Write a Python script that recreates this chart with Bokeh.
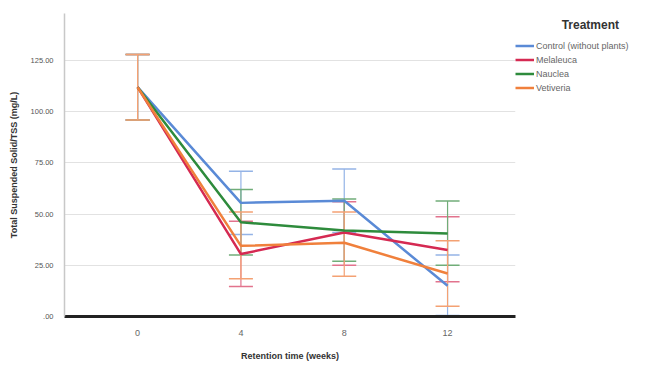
from bokeh.plotting import figure
from bokeh.models import (ColumnDataSource, Whisker, TeeHead, Legend, LegendItem,
                          FixedTicker, Range1d)
from bokeh.embed import file_html
from bokeh.resources import INLINE

weeks = [0, 4, 8, 12]
tick_labels = ["0", "4", "8", "12"]
y_ticks = [0, 25, 50, 75, 100, 125]
y_tick_labels = [".00", "25.00", "50.00", "75.00", "100.00", "125.00"]

series_names = ["Control (without plants)", "Melaleuca", "Nauclea", "Vetiveria"]
colors = ["#5a8ad6", "#d52a52", "#2e8b3c", "#f0803c"]
bar_colors = ["#94b3e6", "#e2738d", "#70ad78", "#f4a173"]

control_mean = [112, 55.5, 56.5, 15]
control_lo = [96, 40, 41, 0.5]
control_hi = [128, 71, 72, 30]

melaleuca_mean = [112, 30.5, 41, 32.5]
melaleuca_lo = [96, 14.7, 25, 17]
melaleuca_hi = [128, 46.5, 56, 48.7]

nauclea_mean = [112, 46, 42, 40.5]
nauclea_lo = [96, 30, 27, 25]
nauclea_hi = [128, 62, 57.4, 56.4]

vetiveria_mean = [112, 34.5, 36, 21]
vetiveria_lo = [96, 18.5, 19.6, 5]
vetiveria_hi = [128, 51, 51, 37]

means = [control_mean, melaleuca_mean, nauclea_mean, vetiveria_mean]
los = [control_lo, melaleuca_lo, nauclea_lo, vetiveria_lo]
his = [control_hi, melaleuca_hi, nauclea_hi, vetiveria_hi]

FONT = "Liberation Sans"

p = figure(frame_width=451, frame_height=303, output_backend="svg", toolbar_location=None,
           x_range=Range1d(-2.83, 14.63), y_range=Range1d(0, 148),
           min_border_left=64, min_border_right=0, min_border_top=13,
           min_border_bottom=44)
p.outline_line_color = None
p.background_fill_color = "white"
p.border_fill_color = "white"

items = []
for name, col, bc, m, lo, hi in zip(series_names, colors, bar_colors, means, los, his):
    src = ColumnDataSource(dict(x=weeks, y=m, lo=lo, hi=hi))
    w = Whisker(source=src, base="x", lower="lo", upper="hi",
                line_color=bc, line_width=1.2,
                upper_head=TeeHead(size=24, line_color=bc, line_width=1.5),
                lower_head=TeeHead(size=24, line_color=bc, line_width=1.5))
    p.add_layout(w)
    r = p.line("x", "y", source=src, line_color=col, line_width=2.5)
    items.append(LegendItem(label=name, renderers=[r]))

p.xaxis.ticker = FixedTicker(ticks=weeks)
p.xaxis.major_label_overrides = {w: t for w, t in zip(weeks, tick_labels)}
p.yaxis.ticker = FixedTicker(ticks=y_ticks)
p.yaxis.major_label_overrides = {v: t for v, t in zip(y_ticks, y_tick_labels)}

p.xaxis.axis_line_color = "#222222"
p.xaxis.axis_line_width = 3
p.xaxis.major_tick_line_color = None
p.xaxis.minor_tick_line_color = None
p.xaxis.major_label_text_font = FONT
p.xaxis.major_label_text_font_size = "9px"
p.xaxis.major_label_text_color = "#666666"
p.xaxis.major_label_standoff = 7
p.xaxis.axis_label = "Retention time (weeks)"
p.xaxis.axis_label_text_font = FONT
p.xaxis.axis_label_text_font_style = "bold"
p.xaxis.axis_label_text_font_size = "9px"
p.xaxis.axis_label_text_color = "#333333"
p.xaxis.axis_label_standoff = 12

p.yaxis.axis_line_color = "#c8c8c8"
p.yaxis.axis_line_width = 1.5
p.yaxis.major_tick_line_color = None
p.yaxis.minor_tick_line_color = None
p.yaxis.major_label_text_font = FONT
p.yaxis.major_label_text_font_size = "7.5px"
p.yaxis.major_label_text_color = "#555555"
p.yaxis.major_label_standoff = 5
p.yaxis.axis_label = "Total Suspended Solid/TSS (mg/L)"
p.yaxis.axis_label_text_font = FONT
p.yaxis.axis_label_text_font_style = "bold"
p.yaxis.axis_label_text_font_size = "9px"
p.yaxis.axis_label_text_color = "#333333"
p.yaxis.axis_label_standoff = 9

p.xgrid.grid_line_color = None
p.ygrid.grid_line_color = "#e2e2e2"
p.ygrid.grid_line_width = 1.2

legend = Legend(items=items, location=(0, 222),
                title="\u00a0" * 14 + "Treatment",
                title_text_font=FONT, title_text_font_style="bold",
                title_text_font_size="12px", title_text_color="#333333",
                title_standoff=7,
                label_text_font=FONT, label_text_font_size="9px",
                label_text_color="#666666", label_height=13, label_standoff=2,
                glyph_width=19, glyph_height=13, spacing=1, padding=2, margin=0,
                background_fill_alpha=0, border_line_color=None)
p.add_layout(legend, "right")

open("out.html", "w").write(file_html(p, INLINE))
